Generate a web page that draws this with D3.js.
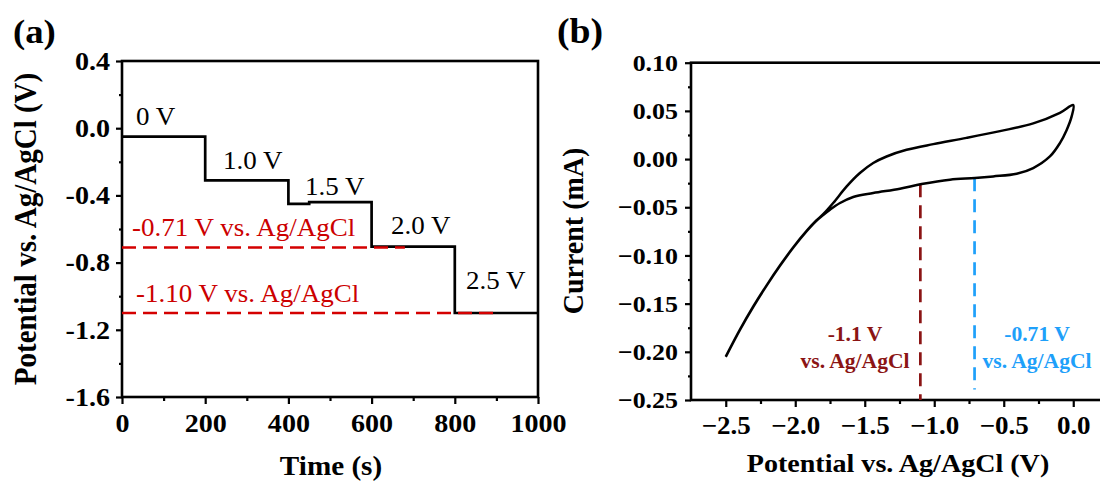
<!DOCTYPE html>
<html>
<head>
<meta charset="utf-8">
<script src="https://cdn.jsdelivr.net/npm/d3@7"></script>
<style>
  body { margin: 0; background: #fff; }
  svg { display: block; }
  text { font-family: "Liberation Serif", "Times New Roman", serif; }
</style>
</head>
<body>
<div id="chart"></div>
<script>
// ---- panel (a): potential steps ----
const stepTimes = [0, 200, 400, 450, 600, 800, 1000];
const stepPotentials = [-0.05, -0.31, -0.45, -0.44, -0.705, -1.10, -1.10];
const stepNames = ["0 V", "1.0 V", "1.5 V", "2.0 V", "2.5 V"];
const refLevels = [-0.71, -1.10];
const refEnds = [680, 900];
const refNames = ["-0.71 V vs. Ag/AgCl", "-1.10 V vs. Ag/AgCl"];
const aXTicks = [0, 200, 400, 600, 800, 1000];
const aXTickLabels = ["0", "200", "400", "600", "800", "1000"];
const aYTicks = [0.4, 0, -0.4, -0.8, -1.2, -1.6];
const aYTickLabels = ["0.4", "0.0", "-0.4", "-0.8", "-1.2", "-1.6"];

// ---- panel (b): CV curve ----
const cvPotential = [-2.50, -2.398, -2.302, -2.206, -2.110, -2.014, -1.918, -1.85, -1.799,
  -1.727, -1.630, -1.535, -1.439, -1.343, -1.199, -1.007, -0.767, -0.527, -0.288, -0.096, 0.0,
  -0.012, -0.048, -0.096, -0.168, -0.288, -0.407, -0.576, -0.707, -0.887, -1.091, -1.247,
  -1.439, -1.583, -1.678, -1.750, -1.799, -1.85, -1.918, -2.014, -2.110, -2.206, -2.302, -2.398, -2.50];
const cvCurrent = [-0.205, -0.177, -0.153, -0.131, -0.1105, -0.0915, -0.0745, -0.064, -0.0572,
  -0.0456, -0.0284, -0.0145, -0.0041, 0.0027, 0.0096, 0.0155, 0.022, 0.029, 0.037, 0.048, 0.056,
  0.044, 0.030, 0.0166, 0.0027, -0.0093, -0.0152, -0.018, -0.0197, -0.0214, -0.0259, -0.0307,
  -0.0352, -0.0393, -0.0456, -0.0525, -0.0580, -0.0643, -0.0748, -0.0918, -0.1108, -0.1313, -0.1533, -0.1772, -0.2052];
const markPotentials = [-1.1, -0.71];
const markTops = [-0.026, -0.020];
const markBottoms = [-0.25, -0.239];
const markNames = [["-1.1 V", "vs. Ag/AgCl"], ["-0.71 V", "vs. Ag/AgCl"]];
const markColors = ["#8b1414", "#1ea0fa"];
const bXTicks = [-2.5, -2.0, -1.5, -1.0, -0.5, 0.0];
const bXTickLabels = ["\u22122.5", "\u22122.0", "\u22121.5", "\u22121.0", "\u22120.5", "0.0"];
const bYTicks = [0.10, 0.05, 0.00, -0.05, -0.10, -0.15, -0.20, -0.25];
const bYTickLabels = ["0.10", "0.05", "0.00", "\u22120.05", "\u22120.10", "\u22120.15", "\u22120.20", "\u22120.25"];

const W = 1100, H = 483;
const SX = 1.08; // the figure is a bit wider than tall

const svg = d3.select("#chart").append("svg")
  .attr("width", W).attr("height", H);

function txt(x, y, s, size, opt) {
  opt = opt || {};
  const t = svg.append("text")
    .attr("transform", opt.rot
      ? `translate(${x},${y}) rotate(-90) scale(1,${SX})`
      : `translate(${x},${y}) scale(${SX},1)`)
    .attr("font-size", size)
    .attr("font-weight", opt.bold ? "bold" : "normal")
    .attr("text-anchor", opt.anchor || "start")
    .attr("fill", opt.color || "#000")
    .text(s);
  return t;
}

function styleAxis(g, size) {
  g.select(".domain").remove();
  g.selectAll("line").attr("stroke", "#000").attr("stroke-width", 2.2);
  g.selectAll("text")
    .attr("font-size", size).attr("font-weight", "bold").attr("fill", "#000")
    .attr("font-family", '"Liberation Serif", "Times New Roman", serif')
    .each(function () {
      const t = d3.select(this);
      t.attr("x", (+t.attr("x") || 0) / SX).attr("transform", `scale(${SX},1)`);
    });
}

// ================= panel (a) =================
const xA = d3.scaleLinear().domain([0, 1000]).range([122, 538]);
const yA = d3.scaleLinear().domain([-1.6, 0.4]).range([397, 61]);

const aMinorX = d3.range(100, 1000, 200);
const aMinorY = [0.2, -0.2, -0.6, -1.0, -1.4];

const gAx = svg.append("g").attr("transform", `translate(0,${yA.range()[0]})`)
  .call(d3.axisBottom(xA).tickValues(aXTicks).tickFormat((d, i) => aXTickLabels[i])
    .tickSizeInner(7).tickSizeOuter(0).tickPadding(10));
styleAxis(gAx, 26);
const gAxm = svg.append("g").attr("transform", `translate(0,${yA.range()[0]})`)
  .call(d3.axisBottom(xA).tickValues(aMinorX).tickFormat("").tickSizeInner(4).tickSizeOuter(0));
styleAxis(gAxm, 26);

const gAy = svg.append("g").attr("transform", `translate(${xA.range()[0]},0)`)
  .call(d3.axisLeft(yA).tickValues(aYTicks).tickFormat((d, i) => aYTickLabels[i])
    .tickSizeInner(6).tickSizeOuter(0).tickPadding(6));
styleAxis(gAy, 26);
const gAym = svg.append("g").attr("transform", `translate(${xA.range()[0]},0)`)
  .call(d3.axisLeft(yA).tickValues(aMinorY).tickFormat("").tickSizeInner(3).tickSizeOuter(0));
styleAxis(gAym, 26);

svg.append("rect")
  .attr("x", xA(0)).attr("y", yA(0.4))
  .attr("width", xA(1000) - xA(0)).attr("height", yA(-1.6) - yA(0.4))
  .attr("fill", "none").attr("stroke", "#000").attr("stroke-width", 2.6);

const stepLine = d3.line().curve(d3.curveStepAfter)
  .x((d, i) => xA(stepTimes[i])).y((d, i) => yA(d));
svg.append("path").attr("d", stepLine(stepPotentials))
  .attr("fill", "none").attr("stroke", "#000").attr("stroke-width", 2.7);

refLevels.forEach((v, i) => {
  svg.append("line")
    .attr("x1", xA(0)).attr("x2", xA(refEnds[i]))
    .attr("y1", yA(v)).attr("y2", yA(v))
    .attr("stroke", "#d40000").attr("stroke-width", 2.7)
    .attr("stroke-dasharray", "14,7");
});

txt(136, 125, stepNames[0], 25);
txt(223, 169, stepNames[1], 25);
txt(305, 195, stepNames[2], 25);
txt(391, 234, stepNames[3], 25);
txt(466, 289, stepNames[4], 25);
txt(132, 236, refNames[0], 25, { color: "#cc0000" });
txt(136, 302, refNames[1], 25, { color: "#cc0000" });

txt(13, 43, "(a)", 34, { bold: true });
txt(331, 475, "Time (s)", 27, { bold: true, anchor: "middle" });
txt(36, 229, "Potential vs. Ag/AgCl (V)", 29, { bold: true, anchor: "middle", rot: true });

// ================= panel (b) =================
const xB = d3.scaleLinear().domain([-2.75, 0.25]).range([691, 1108]);
const yB = d3.scaleLinear().domain([-0.25, 0.10]).range([400, 62.7]);

const bMinorX = [-2.25, -1.75, -1.25, -0.75, -0.25];
const bMinorY = [0.075, 0.025, -0.025, -0.075, -0.125, -0.175, -0.225];

const gBx = svg.append("g").attr("transform", `translate(0,${yB.range()[0]})`)
  .call(d3.axisBottom(xB).tickValues(bXTicks).tickFormat((d, i) => bXTickLabels[i])
    .tickSizeInner(7).tickSizeOuter(0).tickPadding(9));
styleAxis(gBx, 25);
const gBxm = svg.append("g").attr("transform", `translate(0,${yB.range()[0]})`)
  .call(d3.axisBottom(xB).tickValues(bMinorX).tickFormat("").tickSizeInner(4).tickSizeOuter(0));
styleAxis(gBxm, 25);

const gBy = svg.append("g").attr("transform", `translate(${xB.range()[0]},0)`)
  .call(d3.axisLeft(yB).tickValues(bYTicks).tickFormat((d, i) => bYTickLabels[i])
    .tickSizeInner(6).tickSizeOuter(0).tickPadding(7));
styleAxis(gBy, 24);
const gBym = svg.append("g").attr("transform", `translate(${xB.range()[0]},0)`)
  .call(d3.axisLeft(yB).tickValues(bMinorY).tickFormat("").tickSizeInner(3).tickSizeOuter(0));
styleAxis(gBym, 24);

svg.append("rect")
  .attr("x", xB(-2.75)).attr("y", yB(0.10))
  .attr("width", xB(0.25) - xB(-2.75)).attr("height", yB(-0.25) - yB(0.10))
  .attr("fill", "none").attr("stroke", "#000").attr("stroke-width", 2.6);

markPotentials.forEach((v, i) => {
  svg.append("line")
    .attr("x1", xB(v)).attr("x2", xB(v))
    .attr("y1", yB(markTops[i])).attr("y2", yB(markBottoms[i]))
    .attr("stroke", markColors[i]).attr("stroke-width", 2.7)
    .attr("stroke-dasharray", "13,8");
});

const cvLine = d3.line().curve(d3.curveCatmullRom.alpha(0.5))
  .x((d, i) => xB(cvPotential[i])).y(d => yB(d));
svg.append("path").attr("d", cvLine(cvCurrent))
  .attr("fill", "none").attr("stroke", "#000").attr("stroke-width", 2.5)
  .attr("stroke-linejoin", "round");

txt(855, 341, markNames[0][0], 20, { bold: true, anchor: "middle", color: markColors[0] });
txt(855, 368, markNames[0][1], 20, { bold: true, anchor: "middle", color: markColors[0] });
txt(1037, 341, markNames[1][0], 20, { bold: true, anchor: "middle", color: markColors[1] });
txt(1037, 368, markNames[1][1], 20, { bold: true, anchor: "middle", color: markColors[1] });

txt(557, 43, "(b)", 35, { bold: true });
txt(898, 472, "Potential vs. Ag/AgCl (V)", 26, { bold: true, anchor: "middle" });
txt(583, 231, "Current (mA)", 28, { bold: true, anchor: "middle", rot: true });
</script>
</body>
</html>
